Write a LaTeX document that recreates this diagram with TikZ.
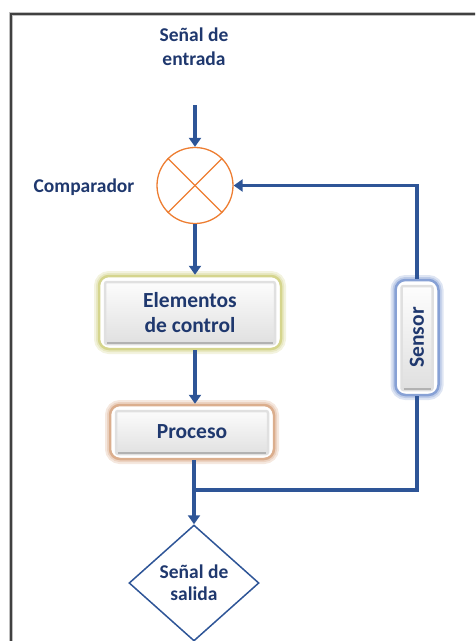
\documentclass[tikz,border=0pt]{standalone}
\usepackage{fontspec}
\setmainfont{Carlito}
\usepackage{xcolor}
\usetikzlibrary{arrows.meta,shapes.geometric}

\definecolor{txtblue}{RGB}{31,56,110}
\definecolor{lineblue}{RGB}{46,85,151}
\definecolor{compor}{RGB}{237,125,49}
\definecolor{glowyel}{RGB}{190,190,80}
\definecolor{glowbrn}{RGB}{200,130,80}
\definecolor{glowblu}{RGB}{70,110,190}

\tikzset{
  txt/.style={font=\fontsize{19.5}{24}\selectfont\bfseries, text=txtblue, align=center},
  boxtxt/.style={font=\fontsize{21.5}{25}\selectfont\bfseries, text=txtblue, align=center},
  flow/.style={draw=lineblue, line width=3.5pt, -{Triangle[width=12pt,length=9pt]}},
  wire/.style={draw=lineblue, line width=3.5pt},
  button/.style={path picture={
    \shade[top color=white, bottom color=black!13, draw=black!12, rounded corners=2pt]
      ([xshift=6pt,yshift=-6pt]path picture bounding box.north west) rectangle
      ([xshift=-6pt,yshift=5pt]path picture bounding box.south east);
    \draw[black!30, line width=1.5pt]
      ([xshift=8pt,yshift=6pt]path picture bounding box.south west) --
      ([xshift=-8pt,yshift=6pt]path picture bounding box.south east);}},
  glowbox/.style={boxtxt, rounded corners=10pt, fill=white, draw=#1!65, line width=2.5pt,
    preaction={draw=#1!18, line width=10pt}, preaction={draw=#1!35, line width=6pt}, button}
}

\begin{document}
\begin{tikzpicture}[x=1pt,y=-1pt]
\clip (0,0) rectangle (475,641);
% frame
\draw[black!25, line width=3.5pt] (11,700) -- (11,14) -- (520,14);
\draw[black!75, line width=1.8pt] (11,700) -- (11,14) -- (520,14);

\node[txt] (entrada) at (194,47) {Señal de\\entrada};
\coordinate (in) at (195,105);
\node[circle, draw=compor, line width=1.3pt, minimum size=76pt, inner sep=0pt] (comp) at (195,185.5) {};
\draw[compor, line width=1.3pt] (comp.north west) -- (comp.south east);
\draw[compor, line width=1.3pt] (comp.north east) -- (comp.south west);
\node[txt] (complbl) at (84,187) {Comparador};

\node[glowbox=glowyel, minimum width=182pt, minimum height=73pt] (ctrl) at (190,312.5) {Elementos\\de control};
\node[glowbox=glowbrn, minimum width=164pt, minimum height=54pt] (proc) at (192,432) {Proceso};
\node[glowbox=glowblu, minimum width=43pt, minimum height=115pt] (sensor) at (417,337.5) {\rotatebox{90}{Sensor}};

\node[txt, diamond, draw=lineblue, line width=1.5pt, minimum width=130pt, minimum height=116pt, inner sep=0pt,
  font=\fontsize{19.5}{22}\selectfont\bfseries] (out) at (194,583) {Señal de\\salida};

\coordinate (split) at (194,490);

% connectors
\draw[flow] (in) -- (comp.north);
\draw[flow] (comp.south) -- (comp.south |- ctrl.north);
\draw[flow] (comp.south |- ctrl.south) -- (comp.south |- proc.north);
\draw[wire] (split |- proc.south) -- (split);
\draw[flow] (split) -- (out.north);
\draw[wire] (split) -| (sensor.south);
\draw[flow] (sensor.north) |- (comp.east);
\end{tikzpicture}
\end{document}
